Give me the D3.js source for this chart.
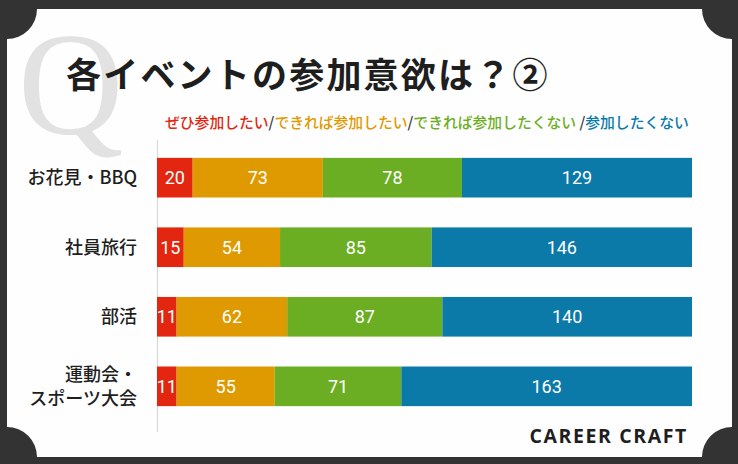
<!DOCTYPE html>
<html>
<head>
<meta charset="utf-8">
<script src="https://cdn.jsdelivr.net/npm/d3@7"></script>
<style>
  html, body { margin: 0; padding: 0; background: #333; }
  svg { display: block; }
</style>
</head>
<body>
<svg id="chart" width="738" height="464"></svg>
<script>
// data
const categories = ['お花見・BBQ', '社員旅行', '部活', '運動会・\nスポーツ大会'];
const seriesNames = ['ぜひ参加したい', 'できれば参加したい', 'できれば参加したくない', '参加したくない'];
const mustJoin = [20, 15, 11, 11];
const wantJoin = [73, 54, 62, 55];
const ratherNot = [78, 85, 87, 71];
const noJoin = [129, 146, 140, 163];
const colors = ['#e2260f', '#df9a02', '#6cae23', '#0b7aa8'];

const W = 738, H = 464;
const svg = d3.select('#chart');

// ticket-like panel with concave corners
const L = 7, T = 9, R = 732, B = 457, cr = 30;
svg.append('rect').attr('width', W).attr('height', H).attr('fill', '#333');
svg.append('path')
    .attr('d', `M${L + cr},${T} L${R - cr},${T} A${cr},${cr} 0 0 0 ${R},${T + cr}
        L${R},${B - cr} A${cr},${cr} 0 0 0 ${R - cr},${B} L${L + cr},${B}
        A${cr},${cr} 0 0 0 ${L},${B - cr} L${L},${T + cr} A${cr},${cr} 0 0 0 ${L + cr},${T} Z`)
    .attr('fill', '#fefefe');

// big Q behind the title
svg.append('text')
    .attr('x', 18).attr('y', 134)
    .attr('font-family', '"Liberation Serif", serif')
    .attr('font-size', 146)
    .attr('fill', '#e2e2e2')
    .text('Q');

svg.append('text')
    .attr('x', 66).attr('y', 88)
    .attr('font-family', '"Noto Sans CJK JP", sans-serif')
    .attr('font-weight', 700)
    .attr('font-size', 35)
    .attr('letter-spacing', 2.2)
    .attr('fill', '#1e1e1e')
    .text('各イベントの参加意欲は？②');

// legend as colored text with slashes
const legend = svg.append('text')
    .attr('x', 165).attr('y', 128)
    .attr('font-family', '"Noto Sans CJK JP", sans-serif')
    .attr('font-weight', 500)
    .attr('font-size', 14.8);
seriesNames.forEach((name, i) => {
    if (i > 0) legend.append('tspan').attr('fill', '#333').text(i === 3 ? ' /' : '/');
    legend.append('tspan').attr('fill', colors[i]).text(name);
});

// stacked bars
const rows = categories.map((c, i) => ({
    cat: c, vals: [mustJoin[i], wantJoin[i], ratherNot[i], noJoin[i]]
}));
const keys = [0, 1, 2, 3];
const stack = d3.stack().keys(keys).value((d, k) => d.vals[k]);
const series = stack(rows);

const x = d3.scaleLinear().domain([0, 300]).range([157, 692]);
const y = d3.scaleBand().domain(categories).range([137, 427]).paddingInner(0.43).paddingOuter(0.3);

svg.append('line')
    .attr('x1', 157.5).attr('x2', 157.5)
    .attr('y1', 140).attr('y2', 432)
    .attr('stroke', '#d8d8d8').attr('stroke-width', 1.2);

const g = svg.append('g');
series.forEach((s, k) => {
    const sg = g.append('g');
    sg.selectAll('rect')
        .data(s)
        .enter().append('rect')
        .attr('x', d => x(d[0]))
        .attr('y', d => y(d.data.cat))
        .attr('width', d => x(d[1]) - x(d[0]))
        .attr('height', y.bandwidth())
        .attr('fill', colors[k]);
    sg.selectAll('text')
        .data(s)
        .enter().append('text')
        .attr('x', d => (x(d[0]) + x(d[1])) / 2)
        .attr('y', d => y(d.data.cat) + y.bandwidth() / 2)
        .attr('dy', '0.36em')
        .attr('text-anchor', 'middle')
        .attr('font-family', 'Roboto, sans-serif')
        .attr('font-size', 18)
        .attr('fill', '#fff')
        .text(d => d[1] - d[0]);
});

// category labels
svg.selectAll('text.cat')
    .data(categories)
    .enter().append('text')
    .attr('class', 'cat')
    .attr('text-anchor', 'end')
    .attr('font-family', '"Noto Sans CJK JP", sans-serif')
    .attr('font-weight', 500)
    .attr('font-size', 18)
    .attr('fill', '#1e1e1e')
    .each(function (c) {
        const lines = c.split('\n');
        const cy = y(c) + y.bandwidth() / 2;
        const t = d3.select(this);
        lines.forEach((ln, i) => {
            t.append('tspan')
                .attr('x', 137)
                .attr('y', cy + (i - (lines.length - 1) / 2) * 24)
                .attr('dy', '0.36em')
                .text(ln);
        });
    });

// footer logo
svg.append('text')
    .attr('x', 688).attr('y', 443)
    .attr('text-anchor', 'end')
    .attr('font-family', '"Open Sans", sans-serif')
    .attr('font-weight', 700)
    .attr('font-size', 19.5)
    .attr('letter-spacing', 1.6)
    .attr('fill', '#1e1e1e')
    .text('CAREER CRAFT');
</script>
</body>
</html>
